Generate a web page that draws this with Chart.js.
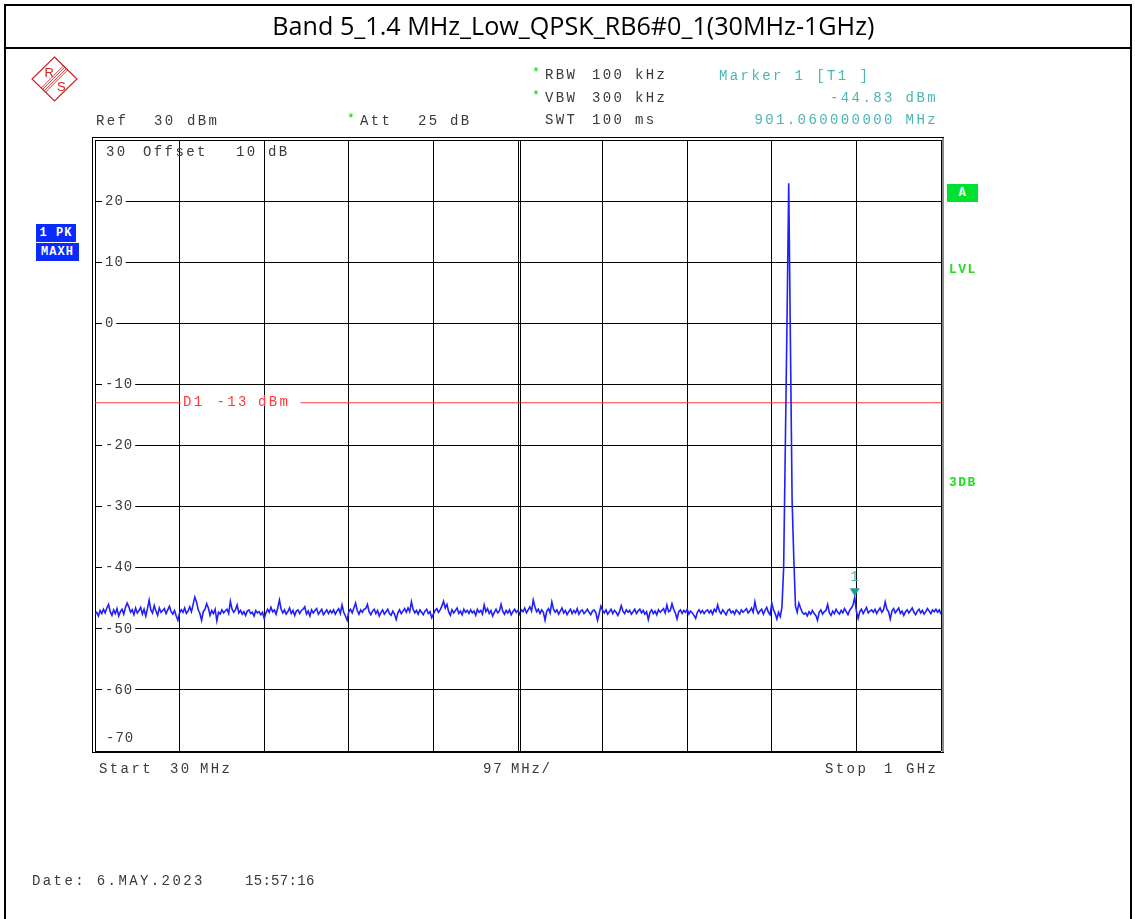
<!DOCTYPE html>
<html>
<head>
<meta charset="utf-8">
<title>Band 5_1.4 MHz_Low_QPSK_RB6#0_1(30MHz-1GHz)</title>
<script src="https://cdn.jsdelivr.net/npm/chart.js@4.4.0/dist/chart.umd.min.js"></script>
<style>
  html, body { margin: 0; padding: 0; background: #fff; }
  #pagina { position: relative; width: 1135px; height: 919px; overflow: hidden; background: #fff; }
  #grafico { position: absolute; left: 0; top: 0; }
  .linha { position: absolute; background: #000; }
  .m { position: absolute; font: 14px/14px "Liberation Mono", monospace; letter-spacing: 2.4px; color: #3a3a3a; white-space: pre; }
  .teal { color: #4bb5b5; }
  .star { color: #00d000; font-size: 13px; }
  .caixa { position: absolute; font: bold 12px/18px "Liberation Mono", monospace; color: #fff; text-align: center; letter-spacing: 1px; }
  .verde { position: absolute; font: bold 13px/14px "Liberation Mono", monospace; color: #22dd22; letter-spacing: 1.5px; }
  #titulo { position: absolute; left: 0; top: 13px; width: 1146px; text-align: center; font: 25px/25px "Open Sans", sans-serif; color: #000; white-space: nowrap; }
  #titulo span { display: inline-block; transform-origin: center; }
</style>
</head>
<body>
<div id="pagina">
  <canvas id="grafico" width="1135" height="919"></canvas>

  <!-- moldura da tabela -->
  <div class="linha" style="left:4px;top:4px;width:1128px;height:2px"></div>
  <div class="linha" style="left:4px;top:47px;width:1128px;height:2px"></div>
  <div class="linha" style="left:4px;top:4px;width:2px;height:915px"></div>
  <div class="linha" style="left:1130px;top:4px;width:2px;height:915px"></div>
  <div id="titulo"><span>Band 5_1.4 MHz_Low_QPSK_RB6#0_1(30MHz-1GHz)</span></div>

  <!-- logotipo -->
  <svg style="position:absolute;left:30px;top:56px" width="50" height="48" viewBox="0 0 50 48">
    <polygon points="24.5,1 47,23 24.5,45 2,23" fill="none" stroke="#cc2222" stroke-width="1.2"/>
    <g stroke="#cc2222" stroke-width="0.9">
      <line x1="11.3" y1="32" x2="33.5" y2="9.8"/>
      <line x1="12.7" y1="33.4" x2="34.9" y2="11.2"/>
      <line x1="14.1" y1="34.8" x2="36.3" y2="12.6"/>
      <line x1="15.5" y1="36.2" x2="37.7" y2="14"/>
    </g>
    <text x="14.5" y="21" font-family="Liberation Sans, sans-serif" font-size="13" fill="#cc2222">R</text>
    <text x="27" y="35" font-family="Liberation Sans, sans-serif" font-size="13" fill="#cc2222">S</text>
  </svg>

  <!-- cabeçalho do analisador -->
  <div class="m star" style="left:532px;top:66px">*</div>
  <div class="m" style="left:545px;top:68px">RBW</div>
  <div class="m" style="left:592px;top:68px">100</div>
  <div class="m" style="left:635px;top:68px">kHz</div>
  <div class="m star" style="left:532px;top:89px">*</div>
  <div class="m" style="left:545px;top:91px">VBW</div>
  <div class="m" style="left:592px;top:91px">300</div>
  <div class="m" style="left:635px;top:91px">kHz</div>
  <div class="m" style="left:545px;top:113px">SWT</div>
  <div class="m" style="left:592px;top:113px">100</div>
  <div class="m" style="left:635px;top:113px">ms</div>
  <div class="m teal" style="left:719px;top:69px">Marker 1 [T1 ]</div>
  <div class="m teal" style="right:197px;top:91px">-44.83 dBm</div>
  <div class="m teal" style="right:197px;top:113px">901.060000000 MHz</div>
  <div class="m" style="left:96px;top:114px">Ref</div>
  <div class="m" style="left:154px;top:114px">30</div>
  <div class="m" style="left:187px;top:114px">dBm</div>
  <div class="m star" style="left:347px;top:112px">*</div>
  <div class="m" style="left:360px;top:114px">Att</div>
  <div class="m" style="left:418px;top:114px">25</div>
  <div class="m" style="left:450px;top:114px">dB</div>

  <!-- textos dentro da grade -->
  <div class="m" style="left:106px;top:145px">30</div>
  <div class="m" style="left:143px;top:145px">Offset</div>
  <div class="m" style="left:236px;top:145px">10</div>
  <div class="m" style="left:268px;top:145px">dB</div>
  <div class="m" style="left:106px;top:731px;letter-spacing:1px">-70</div>

  <!-- rodapé -->
  <div class="m" style="left:99px;top:762px">Start</div>
  <div class="m" style="left:170px;top:762px">30</div>
  <div class="m" style="left:200px;top:762px">MHz</div>
  <div class="m" style="left:483px;top:762px;letter-spacing:1.8px">97</div>
  <div class="m" style="left:511px;top:762px;letter-spacing:1.8px">MHz/</div>
  <div class="m" style="left:825px;top:762px">Stop</div>
  <div class="m" style="left:884px;top:762px">1</div>
  <div class="m" style="left:906px;top:762px">GHz</div>
  <div class="m" style="left:32px;top:874px">Date: 6.MAY.2023</div>
  <div class="m" style="left:245px;top:874px;letter-spacing:0.3px">15:57:16</div>

  <!-- indicadores laterais -->
  <div class="caixa" style="left:36px;top:224px;width:40px;height:18px;background:#0a2bff">1 PK</div>
  <div class="caixa" style="left:36px;top:243px;width:43px;height:18px;background:#0a2bff">MAXH</div>
  <div class="caixa" style="left:947px;top:184px;width:31px;height:18px;background:#00e030">A</div>
  <div class="verde" style="left:949px;top:263px">LVL</div>
  <div class="verde" style="left:949px;top:476px">3DB</div>
</div>

<script>
// Varredura do analisador (30 MHz a 1 GHz, 501 pontos)
const sweepStartMHz = 30;
const sweepStopMHz = 1000;

// Linhas verticais da grade (97 MHz/div)
const xGridMHz = [30, 127, 224, 321, 418, 515, 612, 709, 806, 903, 1000];

// Escala vertical (dBm)
const yTicksDbm = [30, 20, 10, 0, -10, -20, -30, -40, -50, -60, -70];

const traceDbm = [
  -47.6,-47.3,-47.9,-47.0,-47.5,-46.8,-47.4,-46.6,-46.0,-47.2,-47.8,-46.9,-47.5,-46.7,-47.9,-47.2,-46.8,-47.6,-46.5,-45.8,
  -46.4,-47.3,-46.9,-47.7,-46.6,-47.4,-47.0,-46.5,-47.6,-46.8,-47.9,-46.7,-45.3,-46.9,-47.4,-46.2,-47.1,-47.8,-46.6,-47.3,
  -47.0,-46.7,-47.5,-46.9,-46.3,-47.2,-47.6,-47.0,-47.9,-48.6,-47.4,-46.9,-47.3,-46.6,-47.5,-47.1,-46.4,-47.2,-46.0,-44.8,
  -45.6,-46.9,-47.5,-48.6,-47.2,-46.8,-45.9,-46.6,-47.8,-47.0,-47.5,-46.8,-48.7,-47.3,-47.6,-46.9,-47.4,-47.1,-46.8,-47.5,
  -45.5,-46.8,-47.3,-46.9,-46.1,-47.4,-47.0,-47.6,-47.2,-47.8,-47.1,-46.9,-47.5,-47.3,-47.9,-47.0,-47.4,-47.2,-47.7,-47.3,
  -48.3,-47.4,-46.8,-47.3,-46.5,-47.2,-46.9,-47.6,-46.6,-45.3,-46.8,-47.4,-46.9,-47.6,-47.2,-46.6,-47.5,-47.0,-47.8,-47.1,
  -46.9,-47.5,-47.0,-46.8,-46.4,-47.6,-47.1,-47.9,-46.9,-47.4,-47.0,-46.7,-47.6,-47.2,-46.8,-47.7,-47.3,-46.9,-47.5,-47.0,
  -47.4,-46.9,-47.6,-47.1,-46.7,-47.5,-46.1,-47.3,-47.9,-48.6,-47.2,-46.8,-47.4,-46.6,-45.8,-47.0,-47.6,-46.9,-47.3,-46.8,
  -46.7,-46.0,-47.2,-47.7,-47.1,-46.8,-47.5,-47.0,-47.9,-47.3,-46.9,-47.6,-47.2,-46.8,-47.5,-47.8,-47.1,-47.6,-48.5,-47.4,
  -46.9,-47.5,-47.1,-46.7,-47.3,-46.6,-47.2,-45.6,-46.8,-47.4,-47.0,-47.6,-46.9,-47.3,-47.7,-47.1,-46.8,-47.5,-47.2,-48.2,
  -47.6,-47.0,-46.7,-47.3,-46.9,-46.3,-45.5,-46.6,-46.0,-47.2,-47.8,-46.9,-47.4,-47.0,-46.6,-47.5,-47.1,-47.7,-46.8,-47.3,
  -47.0,-47.5,-46.9,-47.4,-47.1,-47.8,-46.8,-47.3,-47.0,-47.6,-46.1,-47.2,-46.7,-47.5,-47.0,-47.9,-47.3,-46.8,-47.4,-47.1,
  -46.0,-47.1,-47.6,-47.0,-47.4,-46.9,-47.7,-47.2,-46.8,-47.3,-47.0,-47.6,-46.9,-47.2,-46.6,-47.4,-46.9,-46.4,-47.1,-45.3,
  -46.4,-47.2,-46.8,-47.5,-46.9,-47.3,-48.6,-47.1,-46.7,-47.4,-45.6,-46.8,-47.3,-46.9,-47.6,-47.1,-46.6,-47.4,-47.0,-47.7,
  -47.2,-46.8,-47.5,-47.0,-47.4,-46.7,-47.6,-47.1,-46.9,-47.5,-47.2,-46.8,-47.3,-47.7,-47.1,-46.9,-47.4,-48.6,-47.5,-46.3,
  -47.0,-47.4,-46.9,-47.6,-47.2,-46.8,-47.5,-47.0,-47.3,-47.8,-47.2,-46.2,-47.1,-47.5,-46.9,-47.3,-47.0,-47.6,-47.2,-46.8,
  -47.5,-47.1,-46.8,-47.4,-47.0,-47.6,-47.2,-48.5,-47.3,-46.9,-47.5,-47.1,-47.7,-46.9,-47.3,-47.0,-46.7,-47.4,-46.1,-47.2,
  -47.0,-45.9,-46.8,-47.4,-48.4,-47.2,-46.9,-47.5,-47.0,-47.3,-46.8,-47.6,-47.1,-47.4,-47.8,-48.3,-47.3,-46.9,-47.4,-47.0,
  -47.5,-47.1,-46.9,-47.4,-47.0,-47.6,-46.8,-47.2,-46.1,-47.1,-47.5,-46.9,-47.3,-47.7,-47.0,-46.8,-47.4,-47.1,-47.6,-46.9,
  -47.2,-47.6,-46.9,-47.3,-47.0,-46.7,-47.4,-47.1,-46.6,-47.3,-45.6,-46.9,-47.5,-47.1,-46.8,-47.6,-47.0,-46.5,-47.3,-47.7,
  -45.8,-46.9,-47.5,-48.4,-47.3,-48.0,-46.5,-40.0,-20.0,0.5,22.9,-3.0,-29.0,-38.5,-46.3,-47.3,-45.8,-46.6,-47.3,-47.6,
  -47.4,-47.9,-47.2,-47.6,-47.0,-47.5,-47.8,-48.6,-47.3,-46.9,-47.6,-47.2,-47.0,-46.0,-47.4,-47.8,-47.1,-47.5,-46.8,-47.3,
  -47.6,-47.0,-47.4,-46.7,-47.2,-47.7,-47.0,-46.6,-46.1,-44.83,-47.1,-48.3,-47.2,-46.8,-47.5,-47.0,-46.5,-47.4,-47.1,-46.9,
  -47.3,-46.8,-47.5,-47.0,-46.6,-47.3,-46.9,-45.6,-46.8,-47.2,-48.4,-47.1,-46.7,-47.4,-47.0,-46.6,-47.5,-47.1,-47.8,-47.2,
  -46.9,-47.4,-47.0,-46.6,-47.3,-47.7,-47.1,-46.8,-47.4,-47.0,-47.6,-47.2,-46.7,-47.1,-47.5,-46.9,-47.2,-46.8,-47.3,-46.9,
  -47.6
];

// Linha de limite D1 e marcador 1
const displayLineDbm = -13;
const markerMHz = 901.06;
const markerDbm = -44.83;

// Ajustar título para a largura original
function ajustarTitulo() {
  const span = document.querySelector("#titulo span");
  const largura = span.getBoundingClientRect().width;
  if (largura > 0) span.style.transform = `scaleX(${602 / largura})`;
}

// Espaçamento das letras nos rótulos do eixo
const espacamento = {
  id: "espacamento",
  beforeUpdate(chart) { chart.ctx.letterSpacing = "1px"; },
  beforeDraw(chart) { chart.ctx.letterSpacing = "1px"; }
};

// Rótulo D1, marcador, linha central dupla e moldura
const extras = {
  id: "extras",
  afterDatasetsDraw(chart) {
    const { ctx, chartArea: ca, scales } = chart;
    const x = scales.x, y = scales.y;
    ctx.save();
    ctx.letterSpacing = "2.4px";

    // linha central dupla
    const xc = Math.round(x.getPixelForValue(515)) + 2.5;
    ctx.strokeStyle = "#000";
    ctx.lineWidth = 1;
    ctx.beginPath();
    ctx.moveTo(xc, ca.top);
    ctx.lineTo(xc, ca.bottom);
    ctx.stroke();

    // rótulo da linha D1
    const yD1 = y.getPixelForValue(displayLineDbm);
    ctx.fillStyle = "#fff";
    ctx.fillRect(ca.left + 85.5, yD1 - 2, 120, 4);
    ctx.fillStyle = "#ff3b3b";
    ctx.font = '14px "Liberation Mono", monospace';
    ctx.textBaseline = "middle";
    ctx.textAlign = "left";
    ctx.fillText("D1", ca.left + 88, yD1);
    ctx.fillText("-13", ca.left + 121.5, yD1);
    ctx.fillText("dBm", ca.left + 163, yD1);

    // marcador 1
    const mx = x.getPixelForValue(markerMHz);
    const my = y.getPixelForValue(markerDbm);
    ctx.fillStyle = "#1a9c9c";
    ctx.beginPath();
    ctx.moveTo(mx - 5, my - 9);
    ctx.lineTo(mx + 5, my - 9);
    ctx.lineTo(mx, my - 1);
    ctx.closePath();
    ctx.fill();
    ctx.fillStyle = "#4bb5b5";
    ctx.textAlign = "center";
    ctx.fillText("1", mx + 1, my - 20);

    // moldura dupla da grade
    ctx.strokeStyle = "#000";
    ctx.lineWidth = 1;
    ctx.strokeRect(ca.left - 2.5, ca.top - 2.5, ca.right - ca.left + 5, ca.bottom - ca.top + 4);
    ctx.strokeStyle = "#8a8a8a";
    ctx.lineWidth = 2;
    ctx.beginPath();
    ctx.moveTo(ca.right + 2, ca.top - 2);
    ctx.lineTo(ca.right + 2, ca.bottom + 1);
    ctx.stroke();
    ctx.restore();
  }
};

// Criar gráfico do espectro
function criarGraficoEspectro() {
  const ctx = document.getElementById("grafico");
  const passo = (sweepStopMHz - sweepStartMHz) / (traceDbm.length - 1);
  const pontos = traceDbm.map((v, i) => ({ x: sweepStartMHz + i * passo, y: v }));

  new Chart(ctx, {
    type: "line",
    data: {
      datasets: [
        {
          label: "1 PK MAXH",
          data: pontos,
          borderColor: "#1f1fff",
          borderWidth: 1.6,
          pointRadius: 0,
          tension: 0
        },
        {
          label: "D1",
          data: [
            { x: sweepStartMHz, y: displayLineDbm },
            { x: sweepStopMHz, y: displayLineDbm }
          ],
          borderColor: "#ff3b3b",
          borderWidth: 1.2,
          pointRadius: 0
        }
      ]
    },
    options: {
      responsive: false,
      animation: false,
      events: [],
      layout: { padding: { left: 95, top: 140, right: 194, bottom: 168 } },
      plugins: {
        legend: { display: false },
        tooltip: { enabled: false }
      },
      scales: {
        x: {
          type: "linear",
          min: sweepStartMHz,
          max: sweepStopMHz,
          afterBuildTicks: scale => { scale.ticks = xGridMHz.map(v => ({ value: v })); },
          afterFit: scale => { scale.height = 0; },
          ticks: { display: false },
          border: { display: false },
          grid: { color: "#000", lineWidth: 1, drawTicks: false }
        },
        y: {
          min: -70,
          max: 30,
          afterBuildTicks: scale => { scale.ticks = yTicksDbm.map(v => ({ value: v })); },
          afterFit: scale => { scale.width = 0; },
          ticks: {
            mirror: true,
            padding: 10,
            color: "#3a3a3a",
            font: { family: "Liberation Mono", size: 14 },
            callback: value => (value === 30 || value === -70) ? "" : String(value),
            showLabelBackdrop: c => !(c.tick && (c.tick.value === 30 || c.tick.value === -70)),
            backdropColor: "#fff",
            backdropPadding: { left: 3, right: 2, top: 2, bottom: 2 }
          },
          border: { display: false },
          grid: { color: "#000", lineWidth: 1, drawTicks: false }
        }
      }
    },
    plugins: [espacamento, extras]
  });
}

ajustarTitulo();
criarGraficoEspectro();
</script>
</body>
</html>
